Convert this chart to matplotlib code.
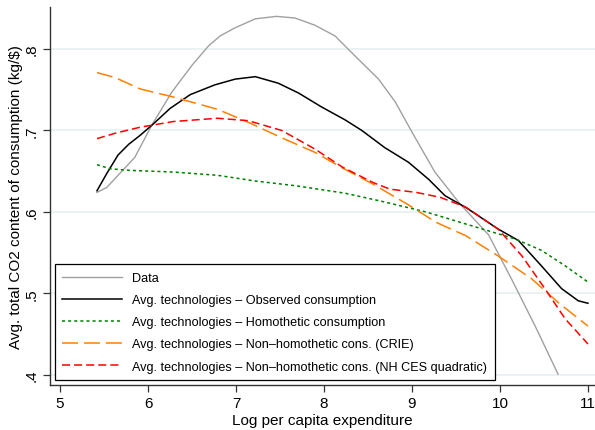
import numpy as np
import matplotlib
matplotlib.use("Agg")
import matplotlib.pyplot as plt

plt.rcParams['font.family'] = ['Liberation Sans', 'DejaVu Sans']
plt.rcParams['lines.scale_dashes'] = False

# values
data_x = [5.42, 5.53, 5.85, 6.04, 6.27, 6.50, 6.69, 6.82, 6.99, 7.22, 7.46, 7.67,
          7.90, 8.125, 8.31, 8.62, 8.81, 9.0, 9.26, 9.545, 9.87, 10.13, 10.40, 10.66]
data_y = [.624, .630, .667, .706, .747, .780, .804, .816, .826, .837, .840, .838,
          .829, .816, .796, .763, .735, .698, .649, .610, .572, .518, .460, .401]

obs_x = [5.42, 5.53, 5.66, 5.78, 5.91, 6.06, 6.25, 6.48, 6.76, 6.99, 7.22, 7.48, 7.71,
         7.97, 8.24, 8.43, 8.69, 8.96, 9.19, 9.375, 9.62, 9.98, 10.21, 10.47, 10.70, 10.89, 11.0]
obs_y = [.626, .647, .670, .683, .694, .708, .727, .744, .756, .763, .766, .758, .746,
         .729, .713, .700, .679, .661, .640, .620, .605, .579, .565, .534, .506, .491, .488]

hom_x = [5.42, 5.57, 5.80, 6.29, 6.79, 7.22, 7.69, 8.24, 8.66, 9.16, 9.62, 10.17, 10.47, 10.74, 11.0]
hom_y = [.658, .653, .651, .649, .645, .638, .632, .623, .613, .600, .585, .567, .553, .534, .514]

crie_x = [5.42, 5.625, 5.91, 6.29, 6.79, 7.14, 7.52, 7.90, 8.21, 8.56, 8.94, 9.28, 9.61, 9.98, 10.36, 10.66, 11.0]
crie_y = [.771, .765, .751, .741, .726, .710, .691, .673, .654, .634, .610, .587, .571, .546, .518, .489, .460]

nhces_x = [5.42, 5.64, 5.91, 6.29, 6.79, 7.14, 7.52, 7.90, 8.21, 8.56, 8.75, 9.05, 9.32, 9.61,
           9.98, 10.25, 10.51, 10.74, 11.0]
nhces_y = [.690, .697, .704, .711, .715, .712, .700, .677, .655, .636, .628, .624, .618, .606,
           .579, .546, .506, .469, .438]

labels = ["Data",
          "Avg. technologies \u2013 Observed consumption",
          "Avg. technologies \u2013 Homothetic consumption",
          "Avg. technologies \u2013 Non\u2013homothetic cons. (CRIE)",
          "Avg. technologies \u2013 Non\u2013homothetic cons. (NH CES quadratic)"]

fig = plt.figure(figsize=(5.95, 4.31), dpi=100)
ax = fig.add_axes([50/595, 45/431, 545/595, 378/431])

ax.plot(data_x, data_y, color='#a0a0a0', lw=1.0, label=labels[0])
ax.plot(obs_x, obs_y, color='black', lw=1.1, label=labels[1])
ax.plot(hom_x, hom_y, color='#008000', lw=1.1, dashes=(2.2, 2.2), label=labels[2])
ax.plot(crie_x, crie_y, color='#ff8000', lw=1.1, dashes=(11.5, 4.3), label=labels[3])
ax.plot(nhces_x, nhces_y, color='#ff0000', lw=1.1, dashes=(5.8, 2.9), label=labels[4])

ax.set_xlim(4.886, 11.08)
ax.set_ylim(0.3877, 0.8515)
ax.set_xticks([5, 6, 7, 8, 9, 10, 11])
ax.set_yticks([.4, .5, .6, .7, .8])
ax.set_yticklabels(['.4', '.5', '.6', '.7', '.8'], rotation=90, va='center')
ax.tick_params(labelsize=11, length=5, width=0.9, color='#333333')
ax.tick_params(axis='x', pad=3)
ax.grid(axis='y', color='#e8f0f2', lw=1.2)
ax.set_axisbelow(True)

for s in ['top', 'right']:
    ax.spines[s].set_visible(False)
for s in ['left', 'bottom']:
    ax.spines[s].set_color('#333333')
    ax.spines[s].set_linewidth(1.0)

ax.set_xlabel('Log per capita expenditure', fontsize=11, labelpad=2)
ax.set_ylabel('Avg. total CO2 content of consumption (kg/\\$)', fontsize=11, labelpad=1)

leg = ax.legend(loc='lower left', bbox_to_anchor=(0.009, 0.013), borderaxespad=0,
                fontsize=9.1, handlelength=4.7, handletextpad=0.8, labelspacing=0.8,
                fancybox=False, framealpha=1, edgecolor='black', borderpad=0.6)
leg.get_frame().set_linewidth(0.9)

plt.savefig('out.png', dpi=100)
